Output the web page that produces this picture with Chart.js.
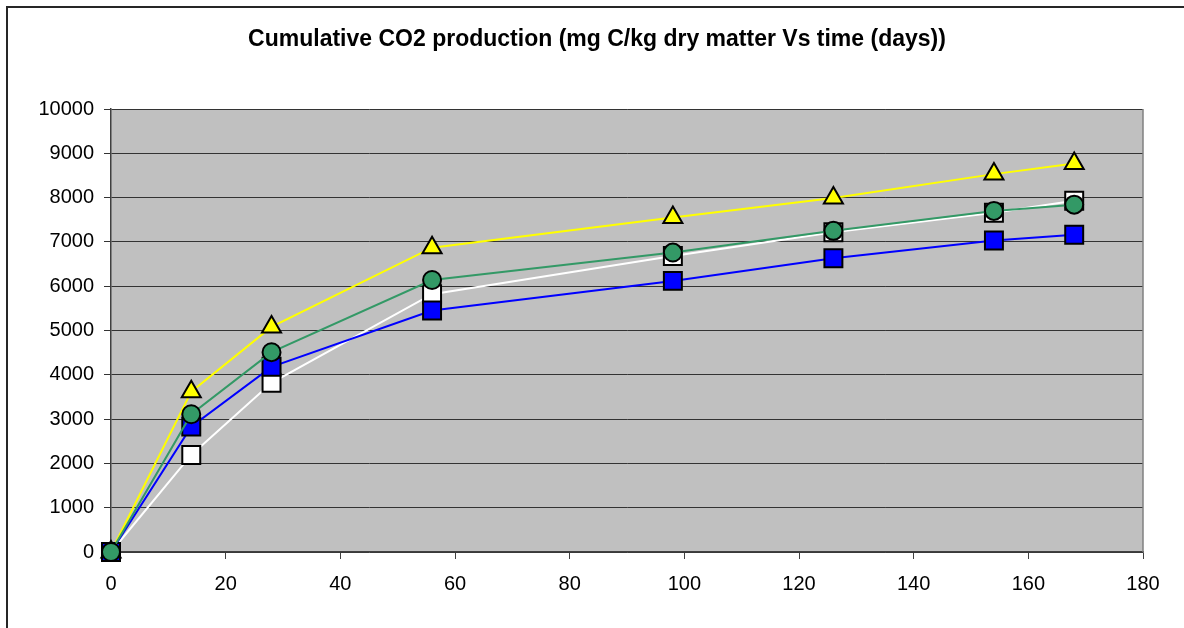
<!DOCTYPE html>
<html>
<head>
<meta charset="utf-8">
<title>Cumulative CO2 production</title>
<script src="https://cdn.jsdelivr.net/npm/chart.js@4.4.1/dist/chart.umd.min.js"></script>
<style>
  html, body { margin: 0; padding: 0; background: #fff; overflow: hidden; }
  .wrap { position: relative; width: 1184px; height: 628px; }
  .frame {
    position: absolute; left: 6px; top: 6px; width: 1300px; height: 800px;
    border-left: 2px solid #262626; border-top: 2px solid #262626;
  }
  #co2 { position: absolute; left: 0; top: 0; }
</style>
</head>
<body>
<div class="wrap">
  <div class="frame"></div>
  <canvas id="co2" width="1184" height="628"></canvas>
</div>
<script>
// sampling days
const days = [0, 14, 28, 56, 98, 126, 154, 168];

// cumulative CO2, mg C/kg dry matter
const seriesBlue = [0, 2830, 4180, 5450, 6120, 6630, 7030, 7160];
const seriesWhite = [0, 2190, 3820, 5820, 6680, 7220, 7660, 7930];
const seriesGreen = [0, 3110, 4510, 6140, 6760, 7250, 7700, 7840];
const seriesYellow = [0, 3620, 5080, 6870, 7550, 7990, 8530, 8770];

const xTicks = { min: 0, max: 180, step: 20 };
const yTicks = { min: 0, max: 10000, step: 1000 };

const chartTitle = "Cumulative CO2 production (mg C/kg dry matter Vs time (days))";
const font = "'Liberation Sans', Arial, sans-serif";

function toPoints(vals) {
  return vals.map((v, i) => ({ x: days[i], y: v }));
}

// grey plot area, right border and the heading
const plotArea = {
  id: "plotArea",
  beforeDraw(chart) {
    const a = chart.chartArea;
    const ctx = chart.ctx;
    ctx.save();
    ctx.fillStyle = "#c0c0c0";
    ctx.fillRect(a.left, a.top, a.right - a.left, a.bottom - a.top);
    ctx.restore();
  },
  afterDraw(chart) {
    const a = chart.chartArea;
    const ctx = chart.ctx;
    ctx.save();
    ctx.strokeStyle = "#808080";
    ctx.lineWidth = 1.5;
    ctx.beginPath();
    ctx.moveTo(a.right, a.top);
    ctx.lineTo(a.right, a.bottom);
    ctx.stroke();

    ctx.fillStyle = "#000";
    ctx.font = "bold 23px " + font;
    ctx.textAlign = "center";
    ctx.textBaseline = "middle";
    ctx.fillText(chartTitle, 597, 40);
    ctx.restore();
  },
};

const mk = (data, line, fill, style, r) => ({
  data: toPoints(data),
  borderColor: line,
  borderWidth: 2,
  pointStyle: style,
  pointRadius: r,
  pointBackgroundColor: fill,
  pointBorderColor: "#000",
  pointBorderWidth: 2,
  tension: 0,
  clip: false,
});

new Chart(document.getElementById("co2"), {
  type: "line",
  data: {
    // first dataset is painted last (on top)
    datasets: [
      mk(seriesGreen, "#339966", "#339966", "circle", 9),
      mk(seriesBlue, "#0000ff", "#0000ff", "rect", 12.7),
      mk(seriesWhite, "#ffffff", "#ffffff", "rect", 12.7),
      mk(seriesYellow, "#ffff00", "#ffff00", "triangle", 11),
    ],
  },
  plugins: [plotArea],
  options: {
    responsive: false,
    devicePixelRatio: 1,
    animation: false,
    layout: { padding: { left: 0, right: 41, top: 109, bottom: 0 } },
    plugins: {
      legend: { display: false },
      tooltip: { enabled: false },
      title: { display: false },
    },
    scales: {
      x: {
        type: "linear",
        min: xTicks.min,
        max: xTicks.max,
        afterFit: (s) => { s.height = 76; },
        ticks: {
          stepSize: xTicks.step,
          color: "#000",
          padding: 13,
          maxRotation: 0,
          format: { useGrouping: false },
          font: { family: font, size: 20 },
        },
        grid: { drawOnChartArea: false, drawTicks: true, tickLength: 7, color: "#404040" },
        border: { display: true, color: "#404040", width: 1.5 },
      },
      y: {
        min: yTicks.min,
        max: yTicks.max,
        afterFit: (s) => { s.width = 111; },
        ticks: {
          stepSize: yTicks.step,
          color: "#000",
          padding: 10,
          format: { useGrouping: false },
          font: { family: font, size: 20 },
        },
        grid: { color: "#333", lineWidth: 1, tickLength: 7 },
        border: { display: true, color: "#404040", width: 1.5 },
      },
    },
  },
});
</script>
</body>
</html>
